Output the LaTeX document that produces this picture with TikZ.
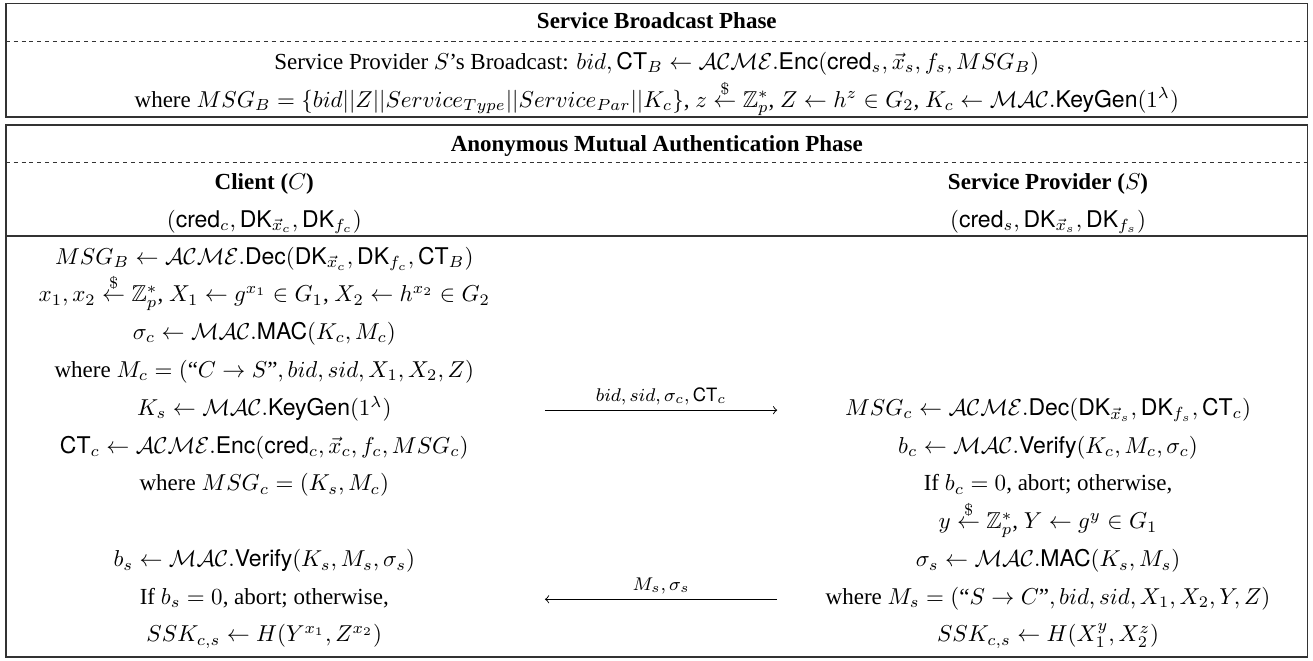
\documentclass[tikz,border=0pt]{standalone}
\usepackage{amsmath,amssymb}
\usepackage[no-math]{fontspec}
\setmainfont{Liberation Serif}
\setsansfont{TeX Gyre Heros}
\newcommand{\alg}[1]{\textsf{#1}}
\newcommand{\rnd}{\overset{\$}{\leftarrow}}
\begin{document}
\begin{tikzpicture}[
  txt/.style={anchor=base, inner sep=0pt},
  frame/.style={draw=black!80, line width=0.6pt},
  sep/.style={draw=black!80, line width=0.5pt, dash pattern=on 1.8pt off 1.6pt},
  msg/.style={->, line width=0.4pt},
  msglabel/.style={above, inner sep=2pt, font=\footnotesize}]
\useasboundingbox (0,0) rectangle (20.07,-10.09);

% broadcast phase
\draw[frame] (0.09,-0.05) rectangle (19.99,-1.79);
\draw[sep] (0.09,-0.64) -- (19.99,-0.64);
\node[txt] (bctitle) at (10.04,-0.44) {\textbf{Service Broadcast Phase}};
\node[txt] (bcline) at (10.04,-1.06)
{Service Provider $S$'s Broadcast: $bid, \alg{CT}_B \leftarrow \mathcal{ACME}.\alg{Enc}(\alg{cred}_s, \vec{x}_s, f_s, MSG_B)$};
\node[txt] (bcwhere) at (10.04,-1.64)
{where $MSG_B = \{bid||Z||Service_{Type}||Service_{Par}||K_c\}$, $z \rnd \mathbb{Z}_p^*$, $Z \leftarrow h^z \in G_2$, $K_c \leftarrow \mathcal{MAC}.\alg{KeyGen}(1^\lambda)$};

% authentication phase
\draw[frame] (0.09,-1.91) rectangle (19.99,-10.04);
\draw[sep] (0.09,-2.49) -- (19.99,-2.49);
\draw[frame] (0.09,-3.61) -- (19.99,-3.61);
\node[txt] (amtitle) at (10.04,-2.31) {\textbf{Anonymous Mutual Authentication Phase}};
\node[txt] (client) at (4.04,-2.89) {\textbf{Client ($C$)}};
\node[txt] (clientkeys) at (4.04,-3.47) {$(\alg{cred}_c, \alg{DK}_{\vec{x}_c}, \alg{DK}_{f_c})$};
\node[txt] (provider) at (16.02,-2.89) {\textbf{Service Provider ($S$)}};
\node[txt] (providerkeys) at (16.02,-3.47) {$(\alg{cred}_s, \alg{DK}_{\vec{x}_s}, \alg{DK}_{f_s})$};

% client side
\node[txt] (cdec) at (4.04,-4.04) {$MSG_B \leftarrow \mathcal{ACME}.\alg{Dec}(\alg{DK}_{\vec{x}_c}, \alg{DK}_{f_c}, \alg{CT}_B)$};
\node[txt] (csample) at (4.04,-4.61) {$x_1, x_2 \rnd \mathbb{Z}_p^*$, $X_1 \leftarrow g^{x_1} \in G_1$, $X_2 \leftarrow h^{x_2} \in G_2$};
\node[txt] (cmac) at (4.04,-5.19) {$\sigma_c \leftarrow \mathcal{MAC}.\alg{MAC}(K_c, M_c)$};
\node[txt] (cmsg) at (4.04,-5.77) {where $M_c = (\text{``}C \rightarrow S\text{''}, bid, sid, X_1, X_2, Z)$};
\node[txt] (ckey) at (4.04,-6.35) {$K_s \leftarrow \mathcal{MAC}.\alg{KeyGen}(1^\lambda)$};
\node[txt] (cenc) at (4.04,-6.93) {$\alg{CT}_c \leftarrow \mathcal{ACME}.\alg{Enc}(\alg{cred}_c, \vec{x}_c, f_c, MSG_c)$};
\node[txt] (cwhere) at (4.04,-7.50) {where $MSG_c = (K_s, M_c)$};
\node[txt] (cverify) at (4.04,-8.66) {$b_s \leftarrow \mathcal{MAC}.\alg{Verify}(K_s, M_s, \sigma_s)$};
\node[txt] (cabort) at (4.04,-9.24) {If $b_s = 0$, abort; otherwise,};
\node[txt] (cssk) at (4.04,-9.81) {$SSK_{c,s} \leftarrow H(Y^{x_1}, Z^{x_2})$};

% provider side
\node[txt] (sdec) at (16.02,-6.35) {$MSG_c \leftarrow \mathcal{ACME}.\alg{Dec}(\alg{DK}_{\vec{x}_s}, \alg{DK}_{f_s}, \alg{CT}_c)$};
\node[txt] (sverify) at (16.02,-6.93) {$b_c \leftarrow \mathcal{MAC}.\alg{Verify}(K_c, M_c, \sigma_c)$};
\node[txt] (sabort) at (16.02,-7.50) {If $b_c = 0$, abort; otherwise,};
\node[txt] (ssample) at (16.02,-8.08) {$y \rnd \mathbb{Z}_p^*$, $Y \leftarrow g^y \in G_1$};
\node[txt] (smac) at (16.02,-8.66) {$\sigma_s \leftarrow \mathcal{MAC}.\alg{MAC}(K_s, M_s)$};
\node[txt] (smsg) at (16.02,-9.24) {where $M_s = (\text{``}S \rightarrow C\text{''}, bid, sid, X_1, X_2, Y, Z)$};
\node[txt] (sssk) at (16.02,-9.81) {$SSK_{c,s} \leftarrow H(X_1^y, X_2^z)$};

% messages
\coordinate (out1) at (8.33,-6.27);
\coordinate (in1) at (11.88,-6.27);
\coordinate (out2) at (11.88,-9.16);
\coordinate (in2) at (8.33,-9.16);
\draw[msg] (out1) -- node[msglabel] {$bid,sid,\sigma_c,\alg{CT}_c$} (in1);
\draw[msg] (out2) -- node[msglabel] {$M_s,\sigma_s$} (in2);
\end{tikzpicture}
\end{document}
